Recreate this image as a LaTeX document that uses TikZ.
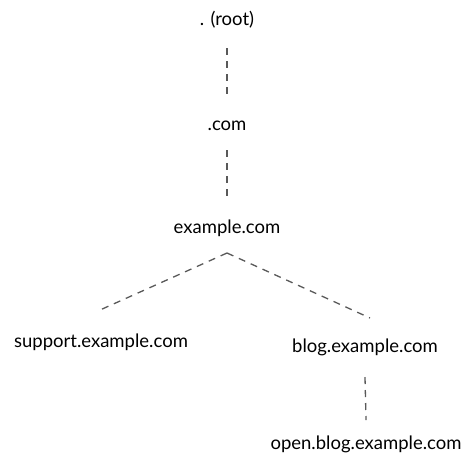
\documentclass[tikz,border=0pt]{standalone}
\usepackage{fontspec}
\setmainfont{Lato}
\usetikzlibrary{calc}
\begin{document}
\begin{tikzpicture}[x=1pt,y=-1pt,
  lbl/.style={inner sep=0pt, font=\fontsize{18.5}{22}\selectfont},
  link/.style={draw=black!65, line width=1.3pt, dash pattern=on 7pt off 6pt}]
\useasboundingbox (0,0) rectangle (462,459);
\node[lbl] (root) at (227,20) {. (root)};
\node[lbl] (com) at (227,126) {.com};
\node[lbl] (ex) at (227,228) {example.com};
\node[lbl] (sup) at (101,342) {support.example.com};
\node[lbl] (blog) at (365,347) {blog.example.com};
\node[lbl] (open) at (366,444) {open.blog.example.com};
\draw[link] ($(root)+(0,28)$) -- ($(com)+(0,-29)$);
\draw[link] ($(com)+(0,24)$) -- ($(ex)+(0,-28)$);
\draw[link] ($(ex)+(0,25)$) -- ($(sup)+(-1,-32)$);
\draw[link] ($(ex)+(0,25)$) -- ($(blog)+(5,-29)$);
\draw[link] ($(blog)+(0,30)$) -- ($(open)+(0,-24)$);
\end{tikzpicture}
\end{document}
